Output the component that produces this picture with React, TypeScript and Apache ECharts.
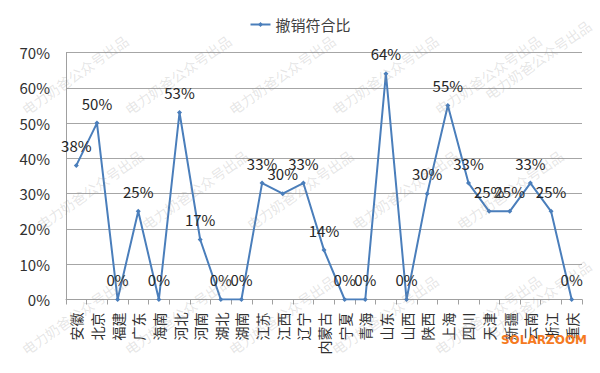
import React, { useEffect, useRef } from "react";
import * as echarts from "echarts";

const categories = ["安徽", "北京", "福建", "广东", "海南", "河北", "河南", "湖北", "湖南", "江苏", "江西", "辽宁", "内蒙古", "宁夏", "青海", "山东", "山西", "陕西", "上海", "四川", "天津", "新疆", "云南", "浙江", "重庆"];
const seriesName = "撤销符合比";
const values = [38, 50, 0, 25, 0, 53, 17, 0, 0, 33, 30, 33, 14, 0, 0, 64, 0, 30, 55, 33, 25, 25, 33, 25, 0];
const watermarkText = "电力奶爸公众号出品";
const watermarkCenters: [number, number][] = [
  [75, 75], [178, 75], [282, 75], [385, 75], [488, 75], [538, 60],
  [90, 190], [195, 190], [300, 190], [405, 190], [510, 190],
  [75, 315], [178, 315], [282, 315], [385, 315], [488, 315], [538, 300],
];
const brandText = "SOLARZOOM";

const FONT = "'Noto Sans CJK SC', 'Noto Sans', sans-serif";

export default function App() {
  const ref = useRef<HTMLDivElement>(null);
  useEffect(() => {
    document.body.style.margin = "0";
    if (!ref.current) return;
    const chart = echarts.init(ref.current, undefined, { renderer: "svg" });
    const graphics: any[] = watermarkCenters.map(([x, y]) => ({
      type: "text",
      x,
      y,
      rotation: (35 * Math.PI) / 180,
      z: 100,
      silent: true,
      style: {
        text: watermarkText,
        fill: "rgba(140,140,140,0.22)",
        font: `14px ${FONT}`,
        align: "center",
        verticalAlign: "middle",
      },
    }));
    graphics.push({
      type: "text",
      x: 544,
      y: 340,
      z: 101,
      style: {
        text: brandText,
        fill: "#f57a1f",
        font: `bold 12px 'DejaVu Sans', sans-serif`,
        align: "center",
        verticalAlign: "middle",
      },
    });
    chart.setOption({
      animation: false,
      backgroundColor: "#ffffff",
      textStyle: { fontFamily: FONT },
      legend: {
        top: 12,
        left: "center",
        itemWidth: 20,
        itemHeight: 6,
        itemGap: 3,
        textStyle: { fontSize: 15, color: "#404040", fontFamily: FONT },
        data: [seriesName],
      },
      grid: { left: 66, right: 18, top: 52.5, bottom: 73.5, containLabel: false },
      xAxis: {
        type: "category",
        data: categories,
        boundaryGap: true,
        axisLine: { lineStyle: { color: "#a0a0a0", width: 1 } },
        axisTick: { show: true, length: 5, alignWithLabel: false, lineStyle: { color: "#a0a0a0" } },
        axisLabel: {
          rotate: 90,
          interval: 0,
          margin: 13,
          fontSize: 14,
          color: "#303030",
          fontFamily: FONT,
        },
      },
      yAxis: {
        type: "value",
        min: 0,
        max: 70,
        interval: 10,
        axisLine: { show: true, lineStyle: { color: "#a0a0a0" } },
        axisTick: { show: false },
        splitLine: { lineStyle: { color: "#a6a6a6", width: 1 } },
        axisLabel: {
          formatter: "{value}%",
          fontSize: 15,
          color: "#303030",
          margin: 16,
          fontFamily: FONT,
        },
      },
      series: [
        {
          name: seriesName,
          type: "line",
          data: values,
          symbol: "diamond",
          symbolSize: 5,
          lineStyle: { color: "#4a7ebb", width: 2 },
          itemStyle: { color: "#4a7ebb" },
          label: {
            show: true,
            position: "top",
            distance: 10,
            formatter: "{c}%",
            fontSize: 15,
            color: "#262626",
            fontFamily: FONT,
          },
        },
      ],
      graphic: graphics,
    });
    return () => chart.dispose();
  }, []);
  return <div ref={ref} style={{ width: 600, height: 373 }} />;
}
